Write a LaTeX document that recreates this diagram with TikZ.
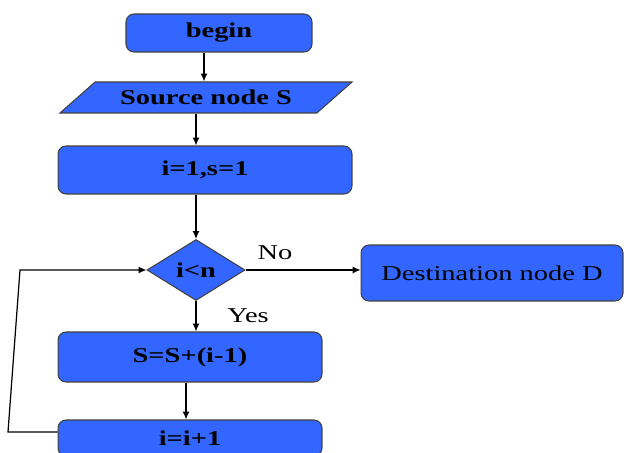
\documentclass[tikz,border=0pt]{standalone}
\usepackage{fontspec}
\setmainfont[FakeStretch=1.35]{Liberation Serif}
\usetikzlibrary{shapes.geometric,arrows.meta}

\definecolor{boxblue}{RGB}{51,102,255}

\tikzset{
  block/.style={draw=black!75, fill=boxblue, rounded corners=0.16cm, line width=0.6pt,
    inner sep=0pt, font=\fontsize{12}{14}\selectfont\bfseries},
  inout/.style={draw=black!75, fill=boxblue, line width=0.6pt, inner sep=0pt,
    trapezium, trapezium left angle=23, trapezium right angle=157,
    trapezium stretches body=true, font=\fontsize{12}{14}\selectfont\bfseries},
  decision/.style={draw=black!75, fill=boxblue, line width=0.6pt, inner sep=0pt,
    diamond, font=\fontsize{12}{14}\selectfont\bfseries},
  lbl/.style={inner sep=0pt, font=\fontsize{12}{14}\selectfont},
  flow/.style={draw=black, line width=0.7pt, -{Latex[length=4.5pt,width=4pt]}}
}

\begin{document}
\begin{tikzpicture}[x=0.02cm, y=-0.02cm]
\useasboundingbox (0,0) rectangle (624,452);
\clip (0,0) rectangle (624,452);

% boxes of the chart
\node[block, minimum width=3.72cm, minimum height=0.76cm] (begin) at (219,33) {begin};
\node[inout, minimum width=5.84cm, minimum height=0.62cm] (src) at (206,97.5) {Source node S};
\node[block, minimum width=5.88cm, minimum height=0.96cm] (init) at (205,170) {i=1,s=1};
\node[decision, minimum width=1.96cm, minimum height=1.22cm] (diam) at (196,270) {i<n};
\node[block, font=\fontsize{12}{14}\selectfont, minimum width=5.24cm, minimum height=1.12cm] (dest) at (492,273) {Destination node D};
\node[block, minimum width=5.28cm, minimum height=1.00cm] (upd) at (190,357) {S=S+(i-1)};
\node[block, minimum width=5.28cm, minimum height=0.72cm] (inc) at (190,438) {i=i+1};

% branch labels
\node[lbl] (no) at (275,253) {No};
\node[lbl] (yes) at (248,316) {Yes};

% connectors
\draw[flow] ([xshift=-0.3cm]begin.south) -- ([xshift=-0.3cm]begin.south |- src.north);
\draw[flow] (diam.north |- src.south) -- (diam.north |- init.north);
\draw[flow] (diam.north |- init.south) -- (diam.north);
\draw[flow] (diam.south) -- (diam.south |- upd.north);
\draw[flow] (diam.east) -- (diam.east -| dest.west);
\draw[flow] ([xshift=-0.08cm]upd.south) -- ([xshift=-0.08cm]upd.south |- inc.north);

% loop back to the test
\coordinate (loopbot) at (8,432);
\coordinate (looptop) at (20,270);
\draw[flow] ([yshift=0.12cm]inc.west) -- (loopbot) -- (looptop) -- (diam.west);
\end{tikzpicture}
\end{document}
